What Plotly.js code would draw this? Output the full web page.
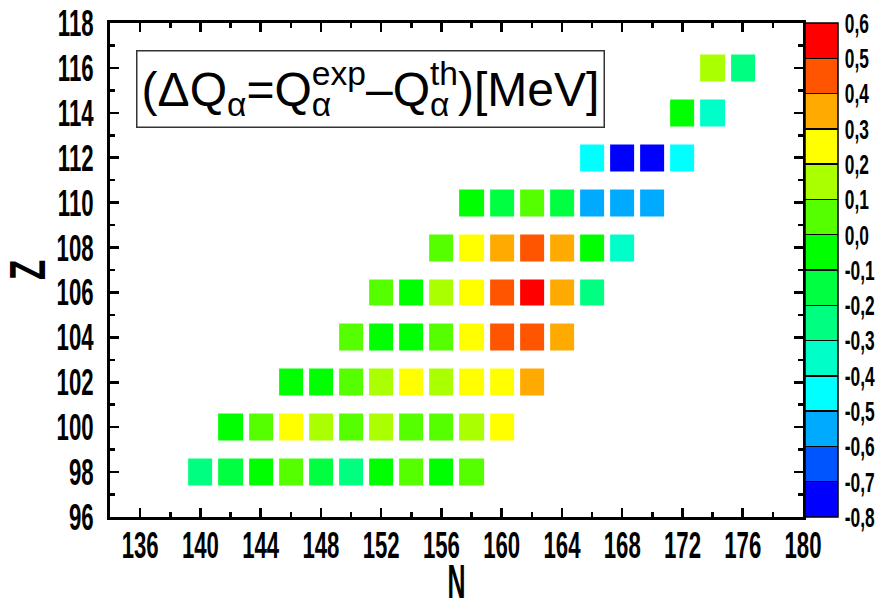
<!DOCTYPE html>
<html><head><meta charset="utf-8">
<script src="https://cdn.plot.ly/plotly-3.0.1.min.js"></script>
<style>body{margin:0;background:#fff}#c{width:882px;height:601px}</style>
</head><body><div id="c"></div>
<script>
// Proton numbers (rows) and the first neutron number of each row
const zRows = [98, 100, 102, 104, 106, 108, 110, 112, 114, 116];
const nStart = [140, 142, 146, 150, 152, 156, 158, 166, 172, 174];
// Delta Q_alpha values [MeV] for each row, at N = nStart, nStart+2, ...
const dq98  = [-0.25, -0.15, -0.05, 0.05, -0.15, -0.25, -0.05, 0.05, -0.05, 0.05];
const dq100 = [-0.05, 0.05, 0.25, 0.15, 0.05, 0.15, 0.05, 0.05, 0.15, 0.25];
const dq102 = [-0.05, -0.05, 0.05, 0.15, 0.25, 0.15, 0.25, 0.25, 0.35];
const dq104 = [0.05, -0.05, -0.05, 0.05, 0.25, 0.45, 0.45, 0.35];
const dq106 = [0.05, -0.05, 0.15, 0.25, 0.45, 0.55, 0.35, -0.25];
const dq108 = [0.05, 0.25, 0.35, 0.45, 0.35, -0.05, -0.35];
const dq110 = [-0.05, -0.15, 0.05, -0.15, -0.55, -0.55, -0.55];
const dq112 = [-0.45, -0.75, -0.75, -0.45];
const dq114 = [-0.05, -0.35];
const dq116 = [0.15, -0.25];
const rowValues = [dq98, dq100, dq102, dq104, dq106, dq108, dq110, dq112, dq114, dq116];

// Colour bins from -0.8 to 0.6, step 0.1
const binColors = ['#0000FF','#0055FF','#00AAFF','#00FFFF','#00FFC8','#00FF80','#00FF40',
                   '#00FF00','#55FF00','#AAFF00','#FFFF00','#FFAA00','#FF5500','#FF0000'];
const cbTickVals = [-0.8,-0.7,-0.6,-0.5,-0.4,-0.3,-0.2,-0.1,0.0,0.1,0.2,0.3,0.4,0.5,0.6];
const cbTickText = ['-0,8','-0,7','-0,6','-0,5','-0,4','-0,3','-0,2','-0,1','0,0','0,1','0,2','0,3','0,4','0,5','0,6'];

// Build grid
const nGrid = [];
for (let n = 136; n <= 178; n += 2) nGrid.push(n);
const zGrid = rowValues.map((vals, r) => nGrid.map(n => {
  const k = (n - nStart[r]) / 2;
  return (k >= 0 && k < vals.length) ? vals[k] : null;
}));

const cs = [];
binColors.forEach((c, i) => { cs.push([i / binColors.length, c]); cs.push([(i + 1) / binColors.length, c]); });

const fam = '"Liberation Sans", Arial, sans-serif';
const tickFont = {family: fam, size: 37, color: '#000', weight: 'bold'};

const trace = {
  type: 'heatmap', x: nGrid, y: zRows, z: zGrid,
  zmin: -0.8, zmax: 0.6, colorscale: cs, xgap: 6, ygap: 18,
  hoverongaps: false,
  colorbar: {
    x: 1.003, xanchor: 'left', xpad: 0, y: 0.5, yanchor: 'middle', ypad: 0,
    len: 1, lenmode: 'fraction', thickness: 33, thicknessmode: 'pixels',
    outlinewidth: 1.5, outlinecolor: '#000',
    tickmode: 'array', tickvals: cbTickVals, ticktext: cbTickText,
    ticks: 'inside', ticklen: 33, tickwidth: 1.5, tickcolor: '#000',
    tickfont: {family: fam, size: 28, color: '#000', weight: 'bold'},
    ticklabelstandoff: 0
  }
};

const layout = {
  width: 882, height: 601,
  margin: {l: 110, r: 79, t: 23, b: 84, autoexpand: false},
  paper_bgcolor: '#fff', plot_bgcolor: '#fff',
  xaxis: {
    range: [134, 180], tickmode: 'linear', tick0: 136, dtick: 4, tickangle: 0, automargin: false,
    showgrid: false, zeroline: false, showline: true, linewidth: 3, linecolor: '#000',
    mirror: 'ticks', ticks: 'inside', ticklen: 9, tickwidth: 2.5, tickcolor: '#000',
    minor: {ticks: 'inside', dtick: 2, tick0: 136, ticklen: 5, tickwidth: 2.5, tickcolor: '#000', showgrid: false},
    tickfont: tickFont, ticklabelstandoff: -6,
    title: {text: 'N', font: {family: fam, size: 48, color: '#000', weight: 'bold'}}
  },
  yaxis: {
    range: [96, 118], tickmode: 'linear', tick0: 96, dtick: 2, automargin: false,
    showgrid: false, zeroline: false, showline: true, linewidth: 3, linecolor: '#000',
    mirror: 'ticks', ticks: 'inside', ticklen: 9, tickwidth: 2.5, tickcolor: '#000',
    minor: {ticks: 'inside', dtick: 1, tick0: 96, ticklen: 5, tickwidth: 2.5, tickcolor: '#000', showgrid: false},
    tickfont: tickFont, ticklabelstandoff: 6,
    title: {text: 'Z', font: {family: fam, size: 50, color: '#000', weight: 'bold'}}
  },
  annotations: [{
    xref: 'paper', yref: 'paper', x: 0.3752, y: 0.8664, xanchor: 'center', yanchor: 'middle',
    showarrow: false, width: 462, height: 71, align: 'center', valign: 'middle',
    text: '(ΔQ<sub>α</sub>=Q<sub>α</sub><sup>exp</sup>–Q<sub>α</sub><sup>th</sup>)[MeV]',
    font: {family: fam, size: 48, color: '#000'},
    bordercolor: '#333', borderwidth: 1.5, borderpad: 2, bgcolor: '#fff'
  }]
};

function squeeze(sel, f) {
  document.querySelectorAll(sel).forEach(el => {
    const w = el.getComputedTextLength();
    if (w > 0) { el.setAttribute('textLength', (w * f).toFixed(1)); el.setAttribute('lengthAdjust', 'spacingAndGlyphs'); }
  });
}

Plotly.newPlot('c', [trace], layout, {displayModeBar: false, staticPlot: true}).then(() => {
  squeeze('.xtick text, .ytick text', 0.6);
  squeeze('.colorbar text', 0.62);
  squeeze('.g-xtitle text', 0.52);
  squeeze('.g-ytitle text', 0.66);
  // nudge the N title below the tick labels, as in the reference
  document.querySelectorAll('.g-xtitle text').forEach(el => {
    el.setAttribute('y', (parseFloat(el.getAttribute('y')) + 7).toFixed(1));
  });
  // stack the superscripts above the subscripted alphas
  document.querySelectorAll('.annotation [clip-path]').forEach(e => e.removeAttribute('clip-path'));
  document.querySelectorAll('.annotation-text tspan').forEach(t => {
    if (t.textContent === 'exp' || t.textContent === 'th') {
      let p = t.previousElementSibling, w = 0;
      while (p) {
        if (p.textContent === 'α') { w = p.getComputedTextLength(); break; }
        p = p.previousElementSibling;
      }
      t.setAttribute('dx', (-w).toFixed(1));
    }
  });
});
</script></body></html>
